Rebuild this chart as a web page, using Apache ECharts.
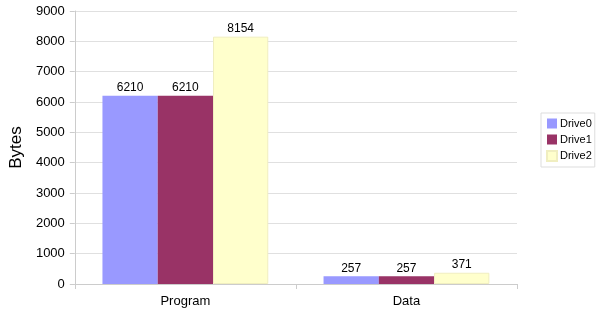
<!DOCTYPE html>
<html><head><meta charset="utf-8">
<script src="https://cdn.jsdelivr.net/npm/echarts@6/dist/echarts.min.js"></script>
<style>html,body{margin:0;padding:0;background:#fff}#c{width:600px;height:313px}</style>
</head><body><div id="c"></div>
<script>
const categories = ['Program', 'Data'];
const seriesNames = ['Drive0', 'Drive1', 'Drive2'];
const drive0 = [6210, 257];
const drive1 = [6210, 257];
const drive2 = [8154, 371];
const colors = ['#9999ff', '#993366', '#ffffcc'];
const values = [drive0, drive1, drive2];
const chart = echarts.init(document.getElementById('c'));
const font = 'Liberation Sans, Arial, sans-serif';
chart.setOption({
  animation: false,
  grid: {left: 72, right: 83, top: 11, bottom: 29},
  legend: {
    orient: 'vertical', left: 541, top: 113,
    itemWidth: 10, itemHeight: 10, itemGap: 5,
    padding: [5, 3, 5, 5],
    borderColor: '#dddddd', borderWidth: 1,
    icon: 'rect',
    textStyle: {fontFamily: font, fontSize: 11, color: '#000', padding: [0, 0, 0, -2]},
    data: seriesNames
  },
  xAxis: {
    type: 'category', data: categories,
    axisLine: {lineStyle: {color: '#cccccc'}},
    axisTick: {show: true, lineStyle: {color: '#cccccc'}},
    axisLabel: {fontFamily: font, fontSize: 13, color: '#000', margin: 11}
  },
  yAxis: {
    type: 'value', min: 0, max: 9000, interval: 1000,
    name: 'Bytes', nameLocation: 'middle', nameGap: 48,
    nameTextStyle: {fontFamily: font, fontSize: 17, color: '#000'},
    axisLine: {show: true, lineStyle: {color: '#cccccc'}},
    axisTick: {show: true, length: 5, lineStyle: {color: '#cccccc'}},
    axisLabel: {fontFamily: font, fontSize: 13, color: '#000', margin: 10, formatter: v => String(v)},
    splitLine: {lineStyle: {color: '#e0e0e0'}}
  },
  series: seriesNames.map((n, i) => ({
    name: n, type: 'bar', data: values[i],
    barWidth: '25%', barGap: '0%',
    itemStyle: {color: colors[i], borderColor: i === 2 ? '#f0eec0' : colors[i], borderWidth: i === 2 ? 1 : 0},
    label: {show: true, position: 'top', distance: 2, fontFamily: font, fontSize: 12, color: '#000'}
  }))
});
</script></body></html>
